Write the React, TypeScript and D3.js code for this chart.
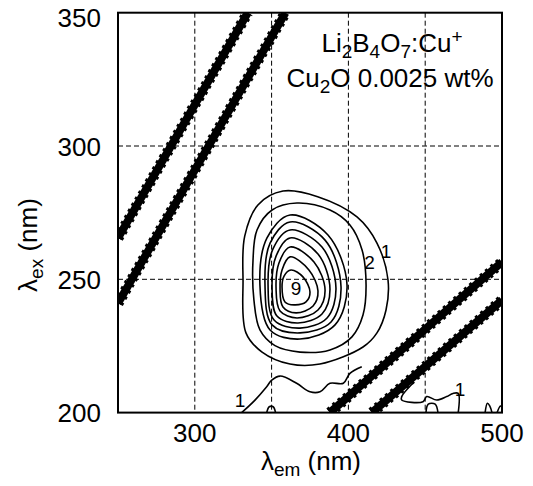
import React from 'react';
import * as d3 from 'd3';

// axes
const X_DOMAIN: [number, number] = [250, 500];
const Y_DOMAIN: [number, number] = [200, 350];
const xTickValues = [300, 400, 500];
const yTickValues = [200, 250, 300, 350];
const xGridValues = [300, 350, 400, 450];
const yGridValues = [250, 300];

// closed contour rings, level 1 (outer) .. 9 (inner); points are [λem, λex]
const ring1 = [[357.4,283.1],[380,281],[405.6,273.4],[418.6,263.6],[425.8,249.7],[424.5,238.5],[418.6,229.9],[409.5,224.6],[381.5,218.2],[362,218.2],[343.8,222.7],[333.3,229.9],[331.4,249.7],[332.5,266.2],[341.1,277.9]];
const ring2 = [[366.5,278.6],[388,276],[401,270.4],[408.9,261],[411.5,247.9],[409.5,236.6],[402.3,228.4],[388,223.5],[368.5,222.7],[352.2,225.1],[342.4,231],[338.5,242.2],[337.9,257.2],[340.5,268.5],[350.3,276]];
const ring3 = [[362,274.1],[386.7,266.6],[399.1,247.9],[391.3,232.9],[368.5,227.6],[349,231],[342.4,247.9],[347,265.5]];
const ring4 = [[362,271.5],[384.8,264.7],[395.2,247.1],[388.7,234],[368.5,229.9],[350.3,232.9],[345.7,247.9],[349,263.6]];
const ring5 = [[362,268.5],[382.8,262.1],[391.9,246.7],[386.1,235.5],[368.5,231.7],[351.6,234.7],[347.7,247.5],[350.9,261.4]];
const ring6 = [[362,265.5],[380.2,259.5],[388,246.4],[382.8,237],[367.2,233.6],[353.5,236.2],[350.3,247.1],[352.9,258.7]];
const ring7 = [[362,262.1],[377.6,256.5],[384.8,246],[380.2,238.5],[366.5,235.5],[355.5,238.1],[352.9,246.7],[354.8,256.1]];
const ring8 = [[362,258.4],[374.3,253.5],[380.2,245.6],[377,240],[365.9,237.4],[357.4,239.6],[355.5,246.4],[356.8,253.5]];
const ring9 = [[362.6,253.5],[370.4,250.9],[375,245.2],[372.4,241.5],[364.6,240.4],[358.7,241.5],[356.8,247.1],[358.1,251.2]];
const rings = [ring1, ring2, ring3, ring4, ring5, ring6, ring7, ring8, ring9];

// open contour pieces near the bottom edge
const lowerLevel1 = [[330.5,200],[339.2,204.7],[346.8,209.7],[350.1,212.2],[355.5,213.7],[366.3,211],[375,207.8],[381.5,207.8],[388,211],[396.7,211],[401,214.7],[408.7,217.2]];
const rightLevel1 = [[442.1,211.1],[434.7,206],[434.7,204.7],[448.6,204.1],[451,206],[457.5,204.7],[464,206],[468.1,207.2],[471.5,207.2],[471.5,200]];
const bump1 = [[346.8,200],[348.5,202.2],[351,202.2],[352.6,200]];
const bump2 = [[450.5,200],[452,203.2],[456.5,203.2],[458.3,200]];
const bump3 = [[489,200],[490.5,203.5],[492,202.5],[493.5,200]];
const bump4 = [[496.8,200],[499,202.5],[500,202]];
const openPieces = [lowerLevel1, rightLevel1, bump1, bump2, bump3, bump4];

// scatter bands (many overlapping contours)
const bandA = [[250,265.5],[334.5,350]];
const bandB = [[250,241],[359,350]];
const bandC = [[388,200],[500,256.5]];
const bandD = [[415.4,200],[500,242.2]];
const bands = [bandA, bandB, bandC, bandD];

// contour level labels
const labelText = ['1', '2', '9', '1', '1'];
const labelEm = [424.5, 413.7, 365.9, 329.4, 472.7];
const labelEx = [260.4, 256.3, 246.4, 204.7, 208.8];

const W = 533;
const H = 486;
const FONT = "'Liberation Sans', Arial, Helvetica, sans-serif";

export default function App() {
  const x = d3.scaleLinear().domain(X_DOMAIN).range([118, 502]);
  const y = d3.scaleLinear().domain(Y_DOMAIN).range([412.6, 12.7]);
  const [x0, x1] = x.range();
  const [yb, yt] = y.range();

  const ringLine = d3.line<number[]>()
    .x(d => x(d[0]))
    .y(d => y(d[1]))
    .curve(d3.curveCatmullRomClosed.alpha(0.5));
  const openLine = d3.line<number[]>()
    .x(d => x(d[0]))
    .y(d => y(d[1]))
    .curve(d3.curveCatmullRom.alpha(0.5));
  const straight = d3.line<number[]>()
    .x(d => x(d[0]))
    .y(d => y(d[1]));

  return (
    <svg width={W} height={H} style={{ position: 'absolute', left: 0, top: 0, display: 'block', background: '#fff' }}
      fontFamily={FONT}>
      <defs>
        <clipPath id="plotClip">
          <rect x={x0} y={yt} width={x1 - x0} height={yb - yt} />
        </clipPath>
      </defs>
      <rect x={0} y={0} width={W} height={H} fill="#fff" />

      {/* grid */}
      {xGridValues.map(v => (
        <line key={'gx' + v} x1={x(v)} x2={x(v)} y1={yt} y2={yb} stroke="#000" strokeWidth={1} strokeDasharray="5,3" />
      ))}
      {yGridValues.map(v => (
        <line key={'gy' + v} x1={x0} x2={x1} y1={y(v)} y2={y(v)} stroke="#000" strokeWidth={1} strokeDasharray="5,3" />
      ))}

      <g clipPath="url(#plotClip)">
        {/* bands */}
        {bands.map((b, i) => (
          <g key={'band' + i}>
            <path d={straight(b) || ''} fill="none" stroke="#000" strokeWidth={8} />
            <path d={straight(b) || ''} fill="none" stroke="#000" strokeWidth={11} strokeDasharray="3,4" />
          </g>
        ))}
        {/* rings */}
        {rings.map((r, i) => (
          <path key={'ring' + i} d={ringLine(r) || ''} fill="none" stroke="#000" strokeWidth={1.6} />
        ))}
        {openPieces.map((p, i) => (
          <path key={'open' + i} d={openLine(p) || ''} fill="none" stroke="#000" strokeWidth={1.6} />
        ))}
      </g>

      {/* labels of levels */}
      {labelText.map((t, i) => (
        <text key={'lab' + i} x={x(labelEm[i])} y={y(labelEx[i])} textAnchor="middle" dominantBaseline="central"
          fontSize={19} fill="#000">{t}</text>
      ))}

      {/* frame */}
      <rect x={x0} y={yt} width={x1 - x0} height={yb - yt} fill="none" stroke="#000" strokeWidth={2} />

      {/* tick labels */}
      {xTickValues.map(v => (
        <text key={'xt' + v} x={x(v)} y={442} textAnchor="middle" fontSize={26} fill="#000">{v}</text>
      ))}
      {yTickValues.map(v => (
        <text key={'yt' + v} x={101} y={Math.max(y(v), 17) + 9.5} textAnchor="end" fontSize={26} fill="#000">{v}</text>
      ))}

      {/* axis titles */}
      <text x={311} y={470} textAnchor="middle" fontSize={26} fill="#000">
        λ<tspan dy={6} fontSize={19}>em</tspan><tspan dy={-6}> (nm)</tspan>
      </text>
      <text transform="translate(37,245) rotate(-90)" textAnchor="middle" fontSize={26} fill="#000">
        λ<tspan dy={6} fontSize={19}>ex</tspan><tspan dy={-6}> (nm)</tspan>
      </text>

      {/* annotation */}
      <text x={392} y={52} textAnchor="middle" fontSize={26} fill="#000">
        Li<tspan dy={6} fontSize={19}>2</tspan><tspan dy={-6}>B</tspan><tspan dy={6} fontSize={19}>4</tspan><tspan dy={-6}>O</tspan><tspan dy={6} fontSize={19}>7</tspan><tspan dy={-6}>:Cu</tspan><tspan dy={-9} fontSize={19}>+</tspan>
      </text>
      <text x={390} y={87} textAnchor="middle" fontSize={26} fill="#000">
        Cu<tspan dy={6} fontSize={19}>2</tspan><tspan dy={-6}>O 0.0025 wt%</tspan>
      </text>
    </svg>
  );
}
